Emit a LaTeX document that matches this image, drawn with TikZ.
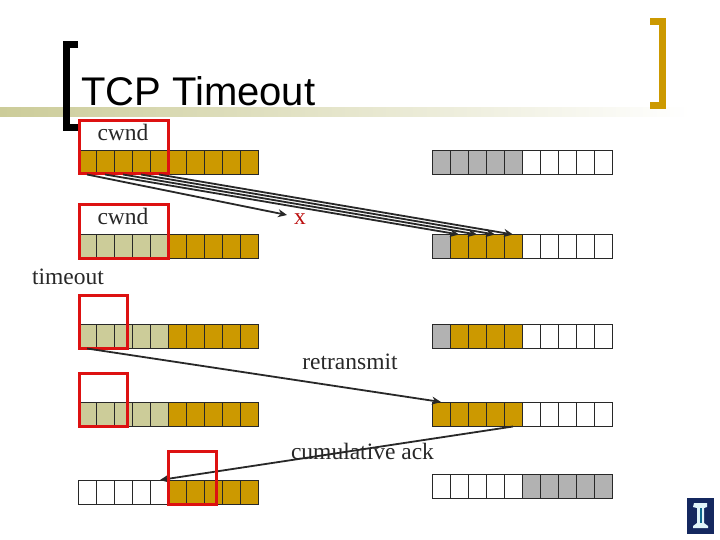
\documentclass[tikz,border=0pt]{standalone}
\usepackage{fontspec}
\setmainfont{Liberation Serif}
\newfontfamily\titlefont{Liberation Sans}
\usetikzlibrary{arrows.meta}
\definecolor{gold}{RGB}{204,153,0}
\definecolor{khaki}{RGB}{204,204,153}
\definecolor{greycell}{RGB}{178,178,178}
\definecolor{redbox}{RGB}{221,17,17}
\definecolor{ink}{RGB}{40,40,40}
\definecolor{navy}{RGB}{20,40,95}
\definecolor{pale}{RGB}{225,245,250}
\tikzset{
  cellbox/.style={draw=ink,line width=1.1pt,minimum width=18pt,minimum height=24pt,inner sep=0pt,outer sep=0pt,anchor=north west},
  window/.style={draw=redbox,line width=3pt},
  label/.style={font=\fontsize{23.5}{26}\selectfont,text=ink,inner sep=0pt,anchor=base},
  flow/.style={draw=ink,line width=1.8pt,-{Stealth[length=9pt,width=8pt]}},
  bracketline/.style={line width=7pt,line cap=butt,line join=miter}
}
% \cellrow{name}{x}{y}{c1,...,c10}
\newcommand{\cellrow}[4]{%
  \foreach \c [count=\i from 0] in {#4} {
    \node[cellbox,fill=\c] (#1-\i) at ({#2+18*\i},#3) {};
  }%
}
\begin{document}
\begin{tikzpicture}[x=1pt,y=-1pt]
\useasboundingbox (0,0) rectangle (720,540);
\fill[white] (0,0) rectangle (720,540);
% title rule
\shade[left color=khaki,right color=white] (0,108) rectangle (690,117);
% brackets
\draw[bracketline,black] (78,44.5) -- (66.5,44.5) -- (66.5,128) -- (78,128);
\draw[bracketline,gold] (650,21.5) -- (662.5,21.5) -- (662.5,105.5) -- (650,105.5);
\node[font=\titlefont\fontsize{40}{44}\selectfont,inner sep=0pt,anchor=base west] (title) at (81,106) {TCP Timeout};
% rows
\cellrow{la}{78.5}{150.5}{gold,gold,gold,gold,gold,gold,gold,gold,gold,gold}
\cellrow{lb}{78.5}{234.5}{khaki,khaki,khaki,khaki,khaki,gold,gold,gold,gold,gold}
\cellrow{lc}{78.5}{324.5}{khaki,khaki,khaki,khaki,khaki,gold,gold,gold,gold,gold}
\cellrow{ld}{78.5}{402.5}{khaki,khaki,khaki,khaki,khaki,gold,gold,gold,gold,gold}
\cellrow{le}{78.5}{480.5}{white,white,white,white,white,gold,gold,gold,gold,gold}
\cellrow{ra}{432.5}{150.5}{greycell,greycell,greycell,greycell,greycell,white,white,white,white,white}
\cellrow{rb}{432.5}{234.5}{greycell,gold,gold,gold,gold,white,white,white,white,white}
\cellrow{rc}{432.5}{324.5}{greycell,gold,gold,gold,gold,white,white,white,white,white}
\cellrow{rd}{432.5}{402.5}{gold,gold,gold,gold,gold,white,white,white,white,white}
\cellrow{re}{432.5}{474.5}{white,white,white,white,white,greycell,greycell,greycell,greycell,greycell}
% texts
\node[label] (cwa) at (123,141) {cwnd};
\node[label] (cwb) at (123,224.5) {cwnd};
\node[label,text=redbox!85!black] (xmark) at (300,224.5) {x};
\node[label] (tmo) at (68,284) {timeout};
\node[label] (ret) at (350,369) {retransmit};
\node[label] (ack) at (362.5,459) {cumulative ack};
% connector ends
\coordinate (s0) at (87,174.5);
\coordinate (e0) at (287,215);
\coordinate (s1) at (105,174.5);
\coordinate (s2) at (123,174.5);
\coordinate (s3) at (141,174.5);
\coordinate (s4) at (159,174.5);
\coordinate (e1) at (459,234.5);
\coordinate (e2) at (477,234.5);
\coordinate (e3) at (495,234.5);
\coordinate (e4) at (513,234.5);
\coordinate (s5) at (87,348.5);
\coordinate (e5) at (441,402);
\coordinate (s6) at (513,426.5);
\coordinate (e6) at (160,480);
\draw[flow] (s6) -- (e6);
% windows
\draw[window] (79,121) rectangle (168.5,174);
\draw[window] (79,205) rectangle (168.5,258);
\draw[window] (79,295) rectangle (127,348);
\draw[window] (79,373) rectangle (127,426);
\draw[window] (168.5,451) rectangle (216.5,504);
% flows that run over the windows
\draw[flow] (s0) -- (e0);
\draw[flow] (s1) -- (e1);
\draw[flow] (s2) -- (e2);
\draw[flow] (s3) -- (e3);
\draw[flow] (s4) -- (e4);
\draw[flow] (s5) -- (e5);
% logo
\fill[navy] (687,498) rectangle (714,534);
\fill[pale] (694,503) -- (707,503) -- (707,507) -- (704,508) -- (704,523) -- (708,526) -- (708,528) -- (693,528) -- (693,526) -- (697,523) -- (697,508) -- (693,507) -- cycle;
\fill[navy!70!cyan] (700,508) rectangle (702,523);
\end{tikzpicture}
\end{document}
